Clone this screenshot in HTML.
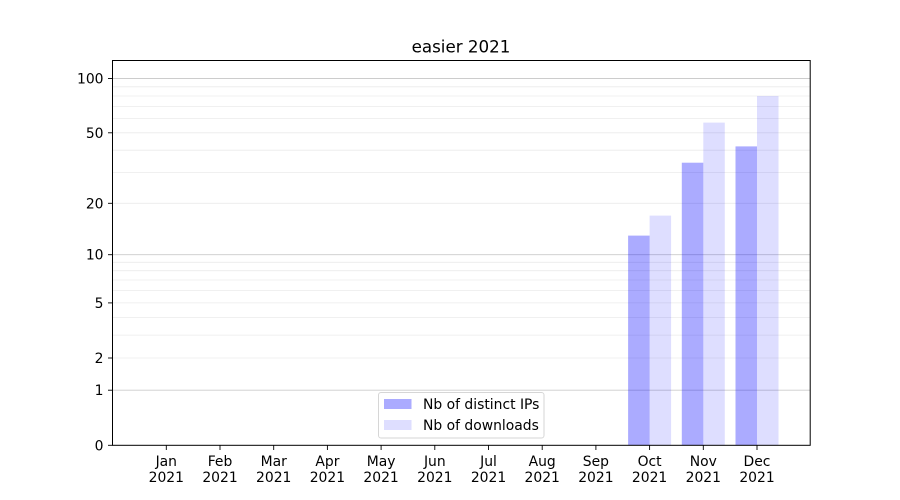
<!DOCTYPE html>
<html><head><meta charset="utf-8"><style>
html,body{margin:0;padding:0;background:#fff;}
svg{display:block;}
text{font-family:"DejaVu Sans","Liberation Sans",sans-serif;fill:#000;}
</style></head><body>
<svg width="900" height="500" viewBox="0 0 900 500" xmlns="http://www.w3.org/2000/svg">
<rect width="900" height="500" fill="#fff"/>
<!-- minor grid -->
<g stroke="#ebebeb" stroke-width="0.8">
<line x1="112.5" x2="810" y1="358.0" y2="358.0"/>
<line x1="112.5" x2="810" y1="335.1" y2="335.1"/>
<line x1="112.5" x2="810" y1="317.4" y2="317.4"/>
<line x1="112.5" x2="810" y1="302.9" y2="302.9"/>
<line x1="112.5" x2="810" y1="290.6" y2="290.6"/>
<line x1="112.5" x2="810" y1="280.0" y2="280.0"/>
<line x1="112.5" x2="810" y1="270.7" y2="270.7"/>
<line x1="112.5" x2="810" y1="262.3" y2="262.3"/>
<line x1="112.5" x2="810" y1="203.3" y2="203.3"/>
<line x1="112.5" x2="810" y1="172.4" y2="172.4"/>
<line x1="112.5" x2="810" y1="150.2" y2="150.2"/>
<line x1="112.5" x2="810" y1="132.8" y2="132.8"/>
<line x1="112.5" x2="810" y1="118.6" y2="118.6"/>
<line x1="112.5" x2="810" y1="106.5" y2="106.5"/>
<line x1="112.5" x2="810" y1="96.0" y2="96.0"/>
<line x1="112.5" x2="810" y1="86.8" y2="86.8"/>
</g>
<!-- major grid -->
<g stroke="#cccccc" stroke-width="0.9">
<line x1="112.5" x2="810" y1="390.2" y2="390.2"/>
<line x1="112.5" x2="810" y1="254.7" y2="254.7"/>
<line x1="112.5" x2="810" y1="78.5" y2="78.5"/>
</g>
<!-- bars -->
<g>
<rect x="628.1" y="235.6" width="21.5" height="209.7" fill="rgb(0,0,255)" fill-opacity="0.33"/>
<rect x="649.6" y="215.6" width="21.5" height="229.7" fill="rgb(0,0,255)" fill-opacity="0.13"/>
<rect x="681.8" y="162.7" width="21.5" height="282.6" fill="rgb(0,0,255)" fill-opacity="0.33"/>
<rect x="703.3" y="122.6" width="21.5" height="322.7" fill="rgb(0,0,255)" fill-opacity="0.13"/>
<rect x="735.5" y="146.4" width="21.5" height="298.9" fill="rgb(0,0,255)" fill-opacity="0.33"/>
<rect x="757.0" y="96.0" width="21.5" height="349.3" fill="rgb(0,0,255)" fill-opacity="0.13"/>
</g>
<!-- spines -->
<rect x="112.5" y="60.5" width="697.7" height="384.8" fill="none" stroke="#000" stroke-width="1"/>
<!-- y ticks -->
<g stroke="#000" stroke-width="0.9">
<line x1="108" x2="112.5" y1="445.3" y2="445.3"/>
<line x1="108" x2="112.5" y1="390.2" y2="390.2"/>
<line x1="108" x2="112.5" y1="358.0" y2="358.0"/>
<line x1="108" x2="112.5" y1="302.9" y2="302.9"/>
<line x1="108" x2="112.5" y1="254.7" y2="254.7"/>
<line x1="108" x2="112.5" y1="203.3" y2="203.3"/>
<line x1="108" x2="112.5" y1="132.8" y2="132.8"/>
<line x1="108" x2="112.5" y1="78.5" y2="78.5"/>
</g>
<g font-size="13.9" text-anchor="end">
<text x="103.5" y="450.3">0</text>
<text x="103.5" y="395.2">1</text>
<text x="103.5" y="363.0">2</text>
<text x="103.5" y="307.9">5</text>
<text x="103.5" y="259.7">10</text>
<text x="103.5" y="208.3">20</text>
<text x="103.5" y="137.8">50</text>
<text x="103.5" y="83.5">100</text>
</g>
<!-- x ticks -->
<g stroke="#000" stroke-width="0.9">
<line x1="166.3" x2="166.3" y1="445.3" y2="450"/>
<line x1="220.0" x2="220.0" y1="445.3" y2="450"/>
<line x1="273.7" x2="273.7" y1="445.3" y2="450"/>
<line x1="327.4" x2="327.4" y1="445.3" y2="450"/>
<line x1="381.1" x2="381.1" y1="445.3" y2="450"/>
<line x1="434.8" x2="434.8" y1="445.3" y2="450"/>
<line x1="488.5" x2="488.5" y1="445.3" y2="450"/>
<line x1="542.2" x2="542.2" y1="445.3" y2="450"/>
<line x1="595.9" x2="595.9" y1="445.3" y2="450"/>
<line x1="649.6" x2="649.6" y1="445.3" y2="450"/>
<line x1="703.3" x2="703.3" y1="445.3" y2="450"/>
<line x1="757.0" x2="757.0" y1="445.3" y2="450"/>
</g>
<g font-size="13.9" text-anchor="middle">
<text x="166.3" y="466">Jan</text><text x="166.3" y="482">2021</text>
<text x="220.0" y="466">Feb</text><text x="220.0" y="482">2021</text>
<text x="273.7" y="466">Mar</text><text x="273.7" y="482">2021</text>
<text x="327.4" y="466">Apr</text><text x="327.4" y="482">2021</text>
<text x="381.1" y="466">May</text><text x="381.1" y="482">2021</text>
<text x="434.8" y="466">Jun</text><text x="434.8" y="482">2021</text>
<text x="488.5" y="466">Jul</text><text x="488.5" y="482">2021</text>
<text x="542.2" y="466">Aug</text><text x="542.2" y="482">2021</text>
<text x="595.9" y="466">Sep</text><text x="595.9" y="482">2021</text>
<text x="649.6" y="466">Oct</text><text x="649.6" y="482">2021</text>
<text x="703.3" y="466">Nov</text><text x="703.3" y="482">2021</text>
<text x="757.0" y="466">Dec</text><text x="757.0" y="482">2021</text>
</g>
<!-- title -->
<text x="461" y="52.5" font-size="16.7" text-anchor="middle">easier 2021</text>
<!-- legend -->
<rect x="378.5" y="392.5" width="165.5" height="45.5" rx="2.5" ry="2.5" fill="#fff" fill-opacity="0.8" stroke="#d6d6d6" stroke-width="1"/>
<rect x="384" y="399" width="27.5" height="10" fill="rgb(0,0,255)" fill-opacity="0.33"/>
<rect x="384" y="420" width="27.5" height="10" fill="rgb(0,0,255)" fill-opacity="0.13"/>
<g font-size="13.9">
<text x="423" y="409">Nb of distinct IPs</text>
<text x="423" y="430">Nb of downloads</text>
</g>
</svg>
</body></html>
